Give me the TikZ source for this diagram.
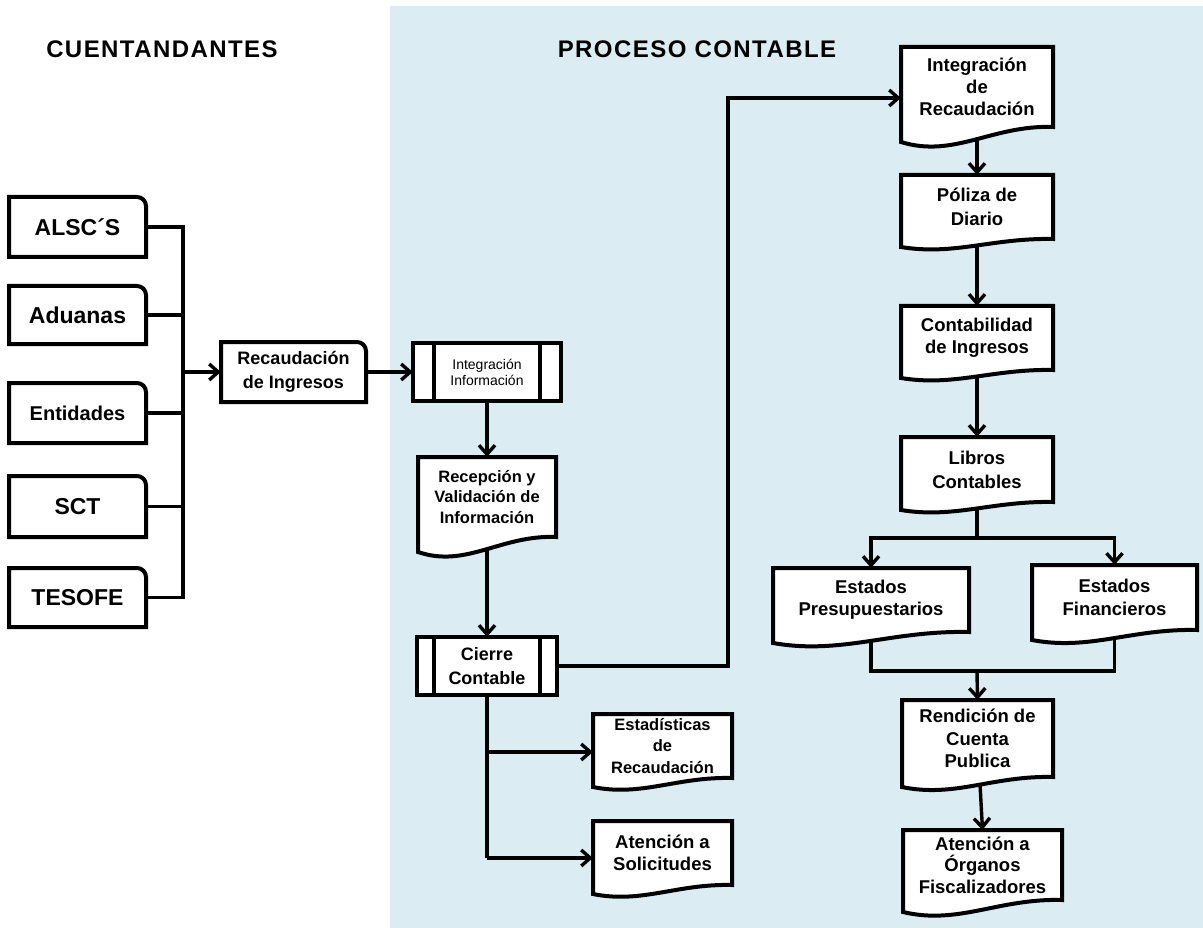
\documentclass[tikz,border=0pt]{standalone}
\usepackage{fontspec}
\setmainfont{Liberation Sans}
\newfontfamily\titlefont[LetterSpace=6]{Liberation Sans}
\usetikzlibrary{arrows.meta}
\pgfdeclarelayer{bg}
\pgfdeclarelayer{links}
\pgfdeclarelayer{shapes}
\pgfsetlayers{bg,links,shapes,main}
\definecolor{panel}{RGB}{219,236,243}

\newcommand\fsz[2]{\fontsize{#1}{#2}\selectfont}

\tikzset{
  shapeline/.style={draw=black, line width=4pt, fill=white, line join=miter},
  conn/.style={draw=black, line width=3.4pt},
  arrow/.style={conn, -{Straight Barb[length=9pt,width=16pt]}},
  boxtext/.style={inner sep=0pt, align=center, font=\bfseries},
  title/.style={inner sep=0pt, font=\titlefont\bfseries\fsz{24}{28}},
}

% document symbol: name, left, top, right, bottom (right side), wave depth, font, text
\newcommand\docbox[8]{%
  \pgfmathsetmacro\dbw{#4-#2}%
  \pgfmathsetmacro\dbh{#5-#3}%
  \begin{pgfonlayer}{shapes}
    \draw[shapeline] (#2,#3) -- (#4,#3) -- (#4,#5)
      .. controls ({#4-0.4*\dbw},{#5-0.15*#6}) and ({#2+0.35*\dbw},{#5+2.1*#6}) ..
      (#2,{#5+#6}) -- cycle;
  \end{pgfonlayer}
  \node[boxtext, minimum width=\dbw pt, minimum height=\dbh pt, font=#7]
    (#1) at ({(#2+#4)/2},{(#3+#5)/2}) {#8};
}

% predefined process: name, left, top, right, bottom, inset, font, text
\newcommand\procbox[8]{%
  \pgfmathsetmacro\dbw{#4-#2}%
  \pgfmathsetmacro\dbh{#5-#3}%
  \begin{pgfonlayer}{shapes}
    \draw[shapeline] (#2,#3) rectangle (#4,#5);
    \draw[shapeline] ({#2+#6},#3) -- ({#2+#6},#5);
    \draw[shapeline] ({#4-#6},#3) -- ({#4-#6},#5);
  \end{pgfonlayer}
  \node[boxtext, minimum width=\dbw pt, minimum height=\dbh pt, font=#7]
    (#1) at ({(#2+#4)/2},{(#3+#5)/2}) {#8};
}

% box with one rounded corner (top right): name, left, top, right, bottom, font, text
\newcommand\tabbox[7]{%
  \pgfmathsetmacro\dbw{#4-#2}%
  \pgfmathsetmacro\dbh{#5-#3}%
  \begin{pgfonlayer}{shapes}
    \draw[shapeline] (#2,#5) -- (#2,#3) -- ({#4-9},#3)
      arc[start angle=90, end angle=0, radius=9pt] -- (#4,#5) -- cycle;
  \end{pgfonlayer}
  \node[boxtext, minimum width=\dbw pt, minimum height=\dbh pt, font=#6]
    (#1) at ({(#2+#4)/2},{(#3+#5)/2}) {#7};
}

\begin{document}
\begin{tikzpicture}[x=1pt, y=-1pt]
\useasboundingbox (0,0) rectangle (1203,928);
\begin{pgfonlayer}{bg}
  \fill[white] (0,0) rectangle (1203,928);
  \fill[panel] (390,6) rectangle (1203,928);
\end{pgfonlayer}

% headings
\node[title] (hleft) at (162,49) {CUENTANDANTES};
\node[title] (hright) at (697,49) {PROCESO CONTABLE};

% contributing entities
\tabbox{alsc}{9}{197}{146}{257}{\bfseries\fsz{23}{27}}{ALSC´S}
\tabbox{adu}{9}{286}{146}{344}{\bfseries\fsz{23}{27}}{Aduanas}
\tabbox{ent}{9}{383}{146}{443}{\bfseries\fsz{20}{24}}{Entidades}
\tabbox{sct}{9}{476}{146}{537}{\bfseries\fsz{23}{27}}{SCT}
\tabbox{tes}{9}{568}{146}{627}{\bfseries\fsz{23}{27}}{TESOFE}

\tabbox{rc}{221}{342}{366}{402}{\bfseries\fsz{18}{24}}{Recaudación\\de Ingresos}

% accounting process, left column
\procbox{ii}{413}{343}{561}{401}{21}{\mdseries\fsz{14}{16}}{Integración\\Información}
\docbox{rec}{418}{457}{556}{537}{15}{\bfseries\fsz{16.5}{20.5}}{Recepción y\\Validación de\\Información}
\procbox{cc}{417}{637}{557}{695}{17}{\bfseries\fsz{18}{24}}{Cierre\\Contable}
\docbox{est}{593}{714}{732}{778}{9}{\bfseries\fsz{16.5}{21.5}}{Estadísticas\\de\\Recaudación}
\docbox{sol}{593}{821}{732}{885}{9}{\bfseries\fsz{18.5}{22}}{Atención a\\Solicitudes}

% accounting process, right column
\docbox{ir}{901}{47}{1053}{127}{15}{\bfseries\fsz{18.5}{22}}{Integración\\de\\Recaudación}
\docbox{pol}{901}{175}{1053}{239}{8}{\bfseries\fsz{18.5}{24}}{Póliza de\\Diario}
\docbox{cont}{901}{306}{1053}{370}{8}{\bfseries\fsz{18.5}{22}}{Contabilidad\\de Ingresos}
\docbox{lib}{901}{437}{1053}{502}{8}{\bfseries\fsz{18.5}{24}}{Libros\\Contables}
\docbox{pre}{773}{568}{969}{632}{11}{\bfseries\fsz{18.5}{22}}{Estados\\Presupuestarios}
\docbox{fin}{1032}{565}{1197}{630}{10}{\bfseries\fsz{18.5}{23}}{Estados\\Financieros}
\docbox{ren}{902}{700}{1053}{777}{10}{\bfseries\fsz{18.5}{22.5}}{Rendición de\\Cuenta\\Publica}
\docbox{org}{903}{830}{1062}{900}{12}{\bfseries\fsz{18.5}{21.5}}{Atención a\\Órganos\\Fiscalizadores}

% junction points
\coordinate (busin) at (183,372);
\coordinate (up1) at (728,666);
\coordinate (up2) at (728,98);
\coordinate (br1) at (487,752);
\coordinate (br2) at (487,858);
\coordinate (split) at (977,538);
\coordinate (join) at (977,671);

\begin{pgfonlayer}{links}
  \draw[conn] (alsc.east) -| (busin);
  \draw[conn] (adu.east) -| (busin);
  \draw[conn] (ent.east) -| (busin);
  \draw[conn] (sct.east) -| (busin);
  \draw[conn] (tes.east) -| (busin);
  \draw[arrow] (busin) -- (rc.west);
  \draw[arrow] (rc.east) -- (ii.west);
  \draw[arrow] (ii.center) -- (rec.north);
  \draw[arrow] (rec.center) -- (cc.north);
  \draw[arrow] (cc.east) -- (up1) -- (up2) -- (ir.west |- up2);
  \draw[conn] (cc.center) -- (br2);
  \draw[arrow] (br1) -- (est.west |- br1);
  \draw[arrow] (br2) -- (sol.west |- br2);
  \draw[arrow] (ir.center) -- (pol.north);
  \draw[arrow] (pol.center) -- (cont.north);
  \draw[arrow] (cont.center) -- (lib.north);
  \draw[conn] (lib.center) -- (split);
  \draw[arrow] (split) -| (pre.north);
  \draw[arrow] (split) -| (fin.north);
  \draw[conn] (pre.center) |- (join);
  \draw[conn] (fin.center) |- (join);
  \draw[arrow] (join) -- (ren.north);
  \draw[arrow] (ren.center) -- (org.north);
\end{pgfonlayer}
\end{tikzpicture}
\end{document}
